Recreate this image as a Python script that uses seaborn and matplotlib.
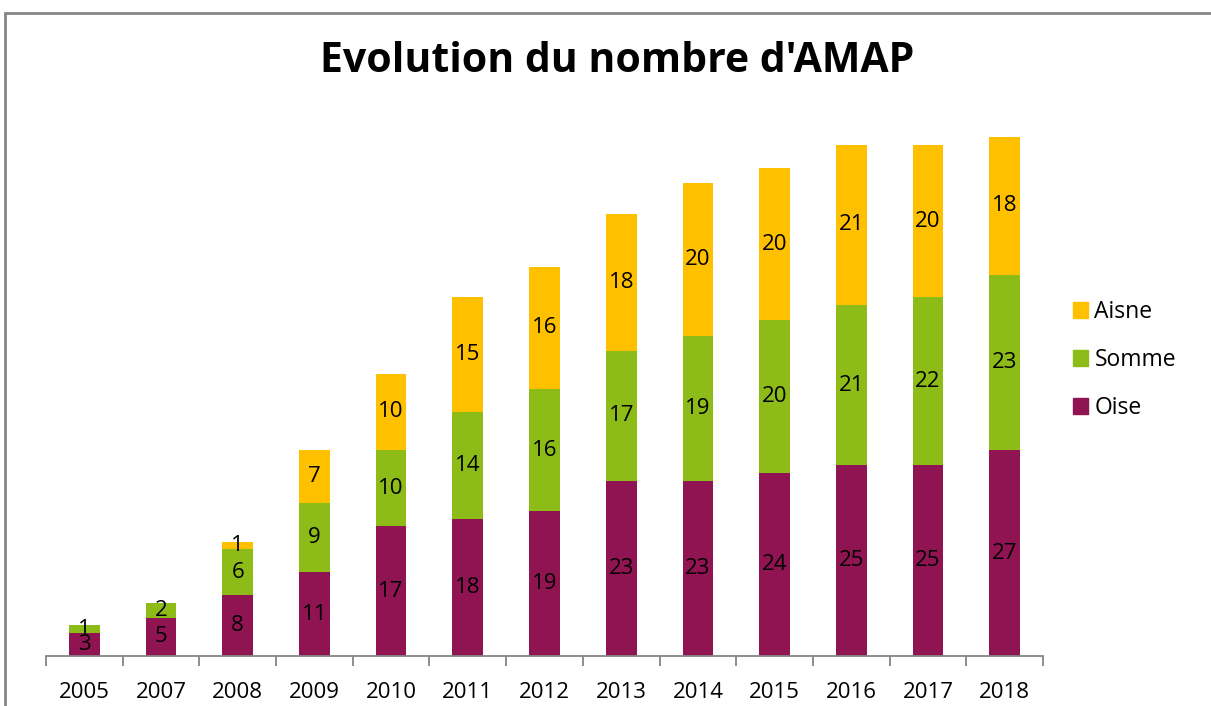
import numpy as np
import pandas as pd
import matplotlib
matplotlib.use("Agg")
import matplotlib.pyplot as plt
import matplotlib.patches as mpatches
import seaborn as sns

years = ["2005", "2007", "2008", "2009", "2010", "2011", "2012",
         "2013", "2014", "2015", "2016", "2017", "2018"]
oise = [3, 5, 8, 11, 17, 18, 19, 23, 23, 24, 25, 25, 27]
somme = [1, 2, 6, 9, 10, 14, 16, 17, 19, 20, 21, 22, 23]
aisne = [0, 0, 1, 7, 10, 15, 16, 18, 20, 20, 21, 20, 18]

c_oise = "#911452"
c_somme = "#8DBB17"
c_aisne = "#FFC000"

sns.set_theme(style="white")
plt.rcParams["font.family"] = ["Open Sans", "DejaVu Sans"]
plt.rcParams["text.color"] = "black"
plt.rcParams["xtick.color"] = "black"

df = pd.DataFrame({"Année": years, "Oise": oise, "Somme": somme, "Aisne": aisne})
df["s2"] = df["Oise"] + df["Somme"]
df["s3"] = df["s2"] + df["Aisne"]

fig = plt.figure(figsize=(12.11, 7.06), dpi=100)
ax = fig.add_axes([46 / 1211, 50 / 706, (1043 - 46) / 1211, 534 / 706])

# stacked bars drawn as overlapping cumulative totals
for col, c in (("s3", c_aisne), ("s2", c_somme), ("Oise", c_oise)):
    sns.barplot(data=df, x="Année", y=col, color=c, width=0.4, saturation=1,
                linewidth=0, ax=ax)

ax.set_ylim(0, 70)
ax.set_xlim(-0.5, len(years) - 0.5)
ax.set_xlabel("")
ax.set_ylabel("")
ax.set_yticks([])

# segment labels
for i in range(len(years)):
    base = 0
    for vals in (oise, somme, aisne):
        v = vals[i]
        if v > 0:
            ax.text(i, base + v / 2, str(v), ha="center", va="center",
                    fontsize=16, color="black")
        base += v

for side in ["top", "right", "left"]:
    ax.spines[side].set_visible(False)
ax.spines["bottom"].set_color("#868686")
ax.spines["bottom"].set_linewidth(1.3)

ax.set_xticks(np.arange(len(years)))
ax.set_xticklabels(years, fontsize=16)
ax.set_xticks(np.arange(-0.5, len(years)), minor=True)
ax.tick_params(axis="x", which="major", length=0, pad=19)
ax.tick_params(axis="x", which="minor", length=7, width=1.3, color="#868686",
               direction="out", bottom=True)

fig.text(617 / 1211, 1 - 62 / 706, "Evolution du nombre d'AMAP",
         ha="center", va="center", fontsize=29.5, fontweight="bold", color="black")

handles = [mpatches.Patch(color=c_aisne, label="Aisne"),
           mpatches.Patch(color=c_somme, label="Somme"),
           mpatches.Patch(color=c_oise, label="Oise")]
fig.legend(handles=handles, loc="center left",
           bbox_to_anchor=(1052 / 1211, 1 - 360 / 706), frameon=False,
           fontsize=16.5, handlelength=0.65, handleheight=0.65,
           handletextpad=0.3, labelspacing=1.05)

# chart area border (cropped at right and bottom)
border = mpatches.Rectangle((4.5 / 1211, -0.1), 1.2, 1 - 12.5 / 706 + 0.1,
                            transform=fig.transFigure, fill=False,
                            edgecolor="#868686", linewidth=2)
fig.patches.append(border)

fig.savefig("out.png", dpi=100)
